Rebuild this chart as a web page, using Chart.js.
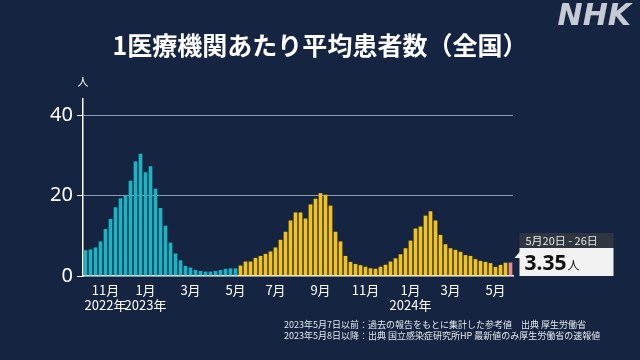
<!DOCTYPE html>
<html lang="ja">
<head>
<meta charset="utf-8">
<title>1医療機関あたり平均患者数（全国）</title>
<script src="https://cdn.jsdelivr.net/npm/chart.js@4.4.1/dist/chart.umd.min.js"></script>
<style>
  html, body { margin: 0; padding: 0; background: #152541; }
  canvas { display: block; }
</style>
</head>
<body>
<canvas id="myChart" width="640" height="360"></canvas>
<script>
// first week shown (Monday)
var firstWeek = "2022-10-03";

// up to 2023-05-07: reference values (teal)
var refValues = [6.4, 6.6, 7.1, 8.6, 11.7, 14.2, 17.1, 19.3, 20.0, 23.7,
	28.5, 30.4, 25.8, 27.3, 21.7, 16.9, 12.5, 8.3, 5.6, 3.9,
	2.5, 2.1, 1.5, 1.25, 1.1, 1.1, 1.25, 1.5, 1.8, 1.9, 1.9];

// from 2023-05-08: reported values (yellow), last one is the latest week
var reportValues = [2.6, 3.6, 3.6, 4.5, 5.0, 5.5, 6.1, 7.1, 9.0, 11.0,
	13.8, 15.8, 15.8, 14.3, 17.8, 19.2, 20.6, 20.2, 17.5, 11.0,
	8.6, 5.0, 3.5, 3.0, 2.7, 2.3, 1.9, 1.8, 2.3, 2.8,
	3.6, 4.4, 5.4, 6.9, 8.8, 11.8, 12.3, 15.0, 16.1, 13.8,
	10.2, 7.9, 6.9, 6.5, 6.0, 5.2, 5.0, 4.2, 3.75, 3.5,
	3.2, 2.25, 2.75, 3.3, 3.35];

var yTicks = [0, 20, 40];
var latestRange = "5月20日 - 26日";
var latestValue = "3.35";
var unit = "人";
var titleText = "1医療機関あたり平均患者数（全国）";
var footnotes = [
	"2023年5月7日以前：過去の報告をもとに集計した参考値　出典 厚生労働省",
	"2023年5月8日以降：出典 国立感染症研究所HP 最新値のみ厚生労働省の速報値"
];

var TEAL = "#1fb3c2";
var YELLOW = "#f4c218";
var PINK = "#e58d97";
var BG = "#152541";
var JP = '"Noto Sans CJK JP", "Noto Sans", sans-serif';

var values = refValues.concat(reportValues);

// week start dates as categories
var weeks = [];
var d0 = new Date(firstWeek + "T00:00:00Z");
for (var i = 0; i < values.length; i++) {
	var d = new Date(d0.getTime() + i * 7 * 86400000);
	weeks.push(d.toISOString().slice(0, 10));
}

// x label: odd month whose 1st day falls in this week
function weekLabel(index) {
	var start = new Date(weeks[index] + "T00:00:00Z");
	for (var k = 0; k < 7; k++) {
		var day = new Date(start.getTime() + k * 86400000);
		var m = day.getUTCMonth() + 1;
		if (day.getUTCDate() === 1 && m % 2 === 1) {
			var first = true;
			for (var j = 0; j < index; j++) {
				if (weekLabel(j) !== "") { first = false; break; }
			}
			if (first || m === 1) return [m + "月", day.getUTCFullYear() + "年"];
			return m + "月";
		}
	}
	return "";
}

var colors = values.map(function(v, i) {
	if (i === values.length - 1) return PINK;
	return i < refValues.length ? TEAL : YELLOW;
});

Chart.defaults.font.family = JP;
Chart.defaults.color = "#ffffff";

var decor = {
	id: "decor",
	beforeDraw: function(chart) {
		var ctx = chart.ctx;
		ctx.save();
		ctx.fillStyle = BG;
		ctx.fillRect(0, 0, chart.width, chart.height);
		ctx.restore();
	},
	afterDraw: function(chart) {
		var ctx = chart.ctx;
		var area = chart.chartArea;
		ctx.save();

		// title
		ctx.fillStyle = "#ffffff";
		ctx.font = "bold 25px " + JP;
		ctx.textAlign = "center";
		ctx.textBaseline = "middle";
		ctx.fillText(titleText, 320, 45);

		// logo
		ctx.font = "italic bold 30px \"DejaVu Sans\", sans-serif";
		ctx.textAlign = "right";
		ctx.fillStyle = "rgba(228,232,238,0.85)";
		ctx.fillText("NHK", 631, 17);

		// unit
		ctx.font = "11px " + JP;
		ctx.textAlign = "center";
		ctx.fillStyle = "#ffffff";
		ctx.fillText(unit, area.left, 82);

		// latest value box
		var meta = chart.getDatasetMeta(0);
		var bar = meta.data[meta.data.length - 1];
		var bx = bar.x + 9;
		var bw = 94;
		var bottom = area.bottom;
		ctx.fillStyle = "#30363f";
		ctx.fillRect(bx, bottom - 43, bw, 15);
		ctx.fillStyle = "#f2f2f2";
		ctx.fillRect(bx, bottom - 28, bw, 28);
		ctx.beginPath();
		ctx.moveTo(bx + 1, bottom - 25);
		ctx.lineTo(bx + 1, bottom - 18);
		ctx.lineTo(bx - 5, bottom - 18);
		ctx.closePath();
		ctx.fill();

		ctx.textAlign = "left";
		ctx.fillStyle = "#e8e8e8";
		ctx.font = "11px " + JP;
		ctx.fillText(latestRange, bx + 6, bottom - 35);
		ctx.fillStyle = "#111111";
		ctx.textBaseline = "alphabetic";
		ctx.font = "bold 21px \"Noto Sans\", sans-serif";
		ctx.fillText(latestValue, bx + 5, bottom - 6);
		var w = ctx.measureText(latestValue).width;
		ctx.font = "12px " + JP;
		ctx.fillText(unit, bx + 6 + w, bottom - 6);

		// notes
		ctx.fillStyle = "#e4e8ee";
		ctx.font = "9px " + JP;
		ctx.textBaseline = "middle";
		ctx.fillText(footnotes[0], 284, 325);
		ctx.fillText(footnotes[1], 284, 336);
		ctx.restore();
	}
};

new Chart("myChart", {
	type: "bar",
	data: {
		labels: weeks,
		datasets: [{
			data: values,
			backgroundColor: colors,
			borderWidth: 0,
			barPercentage: 0.74,
			categoryPercentage: 1.0
		}]
	},
	options: {
		responsive: false,
		animation: false,
		layout: { padding: { top: 99, right: 127, bottom: 0, left: 0 } },
		plugins: {
			legend: { display: false },
			title: { display: false },
			tooltip: { enabled: false }
		},
		scales: {
			x: {
				grid: { display: false, drawTicks: false },
				border: { color: "#ffffff", width: 1.5 },
				ticks: {
					autoSkip: false,
					maxRotation: 0,
					padding: 6,
					color: "#ffffff",
					font: { size: 13 },
					callback: function(value, index) { return weekLabel(index); }
				},
				afterFit: function(scale) { scale.height = 84; }
			},
			y: {
				min: 0,
				max: 44,
				afterBuildTicks: function(scale) {
					scale.ticks = yTicks.map(function(v) { return { value: v }; });
				},
				grid: {
					color: function(c) { return c.tick && c.tick.value === 0 ? "rgba(0,0,0,0)" : "#8f9cb0"; },
					tickColor: "#ffffff",
					tickLength: 6,
					lineWidth: 1
				},
				border: { color: "#ffffff", width: 1.5 },
				ticks: {
					color: "#ffffff",
					padding: 4,
					font: { size: 20, family: '"Noto Sans", sans-serif' }
				},
				afterFit: function(scale) { scale.width = 83; }
			}
		}
	},
	plugins: [decor]
});
</script>
</body>
</html>
